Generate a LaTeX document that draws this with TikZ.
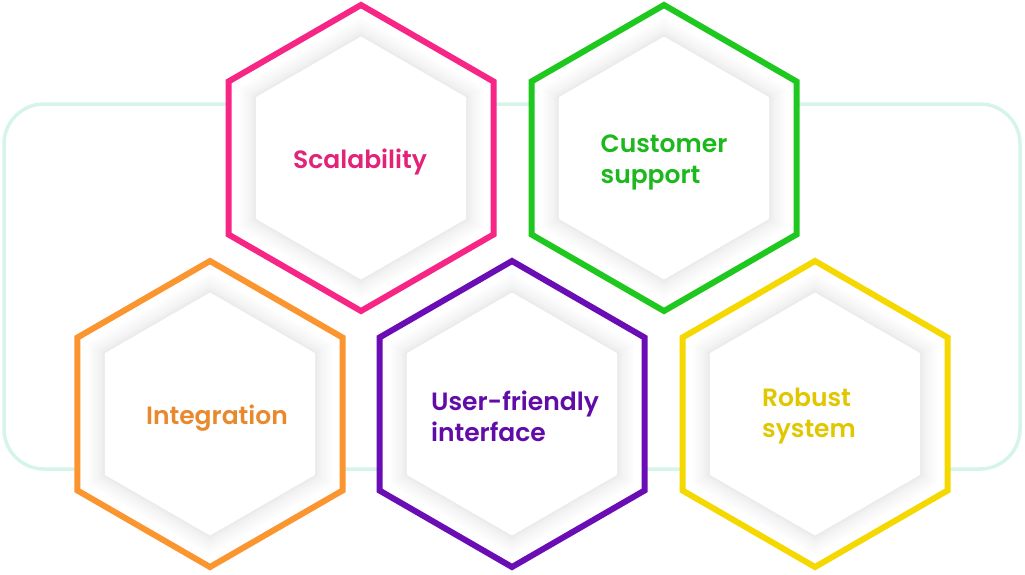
\documentclass[tikz,border=0pt]{standalone}
\usepackage{fontspec}
\setmainfont{Poppins}[BoldFont={Poppins SemiBold}]
\definecolor{mint}{HTML}{D6F4E8}
\definecolor{hpink}{HTML}{F72585}
\definecolor{hgreen}{HTML}{1FC81F}
\definecolor{horange}{HTML}{FB9530}
\definecolor{hpurple}{HTML}{6A0DB5}
\definecolor{hyellow}{HTML}{F5D800}
\newcommand{\hexpath}[1]{(30:#1) -- (90:#1) -- (150:#1) -- (210:#1) -- (270:#1) -- (330:#1) -- cycle}
\begin{document}
\begin{tikzpicture}[x=1pt, y=-1pt,
  every node/.style={font=\bfseries\fontsize{25}{31}\selectfont, align=left, inner sep=0pt},
  hexline/.style={line width=6pt, line join=miter}]
  \useasboundingbox (0,0) rectangle (1025,574);
  % frame behind the hexagons
  \draw[mint, line width=3.5pt, rounded corners=40pt] (4,104) rectangle (1020,469);
  % hexagons
  \foreach \cx/\cy/\tx/\ty/\col/\nm/\txt in {
      361/158/360/162/hpink/scal/{Scalability},
      664/158/664/162/hgreen/cust/{Customer\\support},
      210/414/217/418/horange/integ/{Integration},
      512/414/515/416/hpurple/user/{User-friendly\\interface},
      815/414/809/416/hyellow/robust/{Robust\\system}} {
    \begin{scope}[shift={(\cx,\cy)}]
      \fill[white] \hexpath{153};
      \foreach \r/\g in {140/1, 137/2, 134/3, 131/4, 128/5, 126/6, 124/7, 123/8}
        \fill[black!\g] \hexpath{\r};
      \fill[white] \hexpath{121.5};
      \draw[hexline, \col] \hexpath{153};
    \end{scope}
    \node[text=\col!92!black] (\nm) at (\tx,\ty) {\txt};
  }
\end{tikzpicture}
\end{document}
